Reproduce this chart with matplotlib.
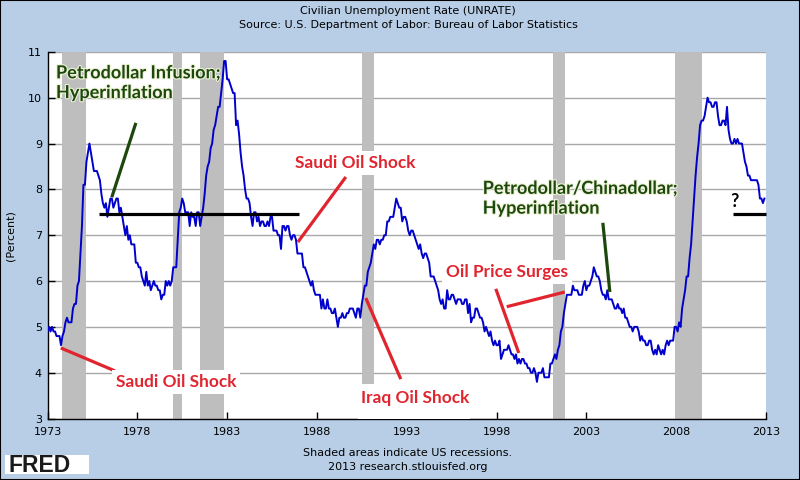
import numpy as np
import matplotlib.pyplot as plt
import matplotlib.patheffects as pe
from matplotlib.patches import Rectangle

# monthly unemployment rate (percent), one row per year, Jan..Dec
rate_1970s = [
    4.9, 5.0, 4.9, 5.0, 4.9, 4.9, 4.8, 4.8, 4.8, 4.6, 4.8, 4.9,
    5.1, 5.2, 5.1, 5.1, 5.1, 5.4, 5.5, 5.5, 5.9, 6.0, 6.6, 7.2,
    8.1, 8.1, 8.6, 8.8, 9.0, 8.8, 8.6, 8.4, 8.4, 8.4, 8.3, 8.2,
    7.9, 7.7, 7.6, 7.7, 7.4, 7.6, 7.8, 7.8, 7.6, 7.7, 7.8, 7.8,
    7.5, 7.6, 7.4, 7.2, 7.0, 7.2, 6.9, 7.0, 6.8, 6.8, 6.8, 6.4,
    6.4, 6.3, 6.3, 6.1, 6.0, 5.9, 6.2, 5.9, 6.0, 5.8, 5.9, 6.0,
    5.9, 5.9, 5.8, 5.8, 5.6, 5.7, 5.7, 6.0, 5.9, 6.0, 5.9, 6.0,
]
rate_1980s = [
    6.3, 6.3, 6.3, 6.9, 7.5, 7.6, 7.8, 7.7, 7.5, 7.5, 7.5, 7.2,
    7.5, 7.4, 7.4, 7.2, 7.5, 7.5, 7.2, 7.4, 7.6, 7.9, 8.3, 8.5,
    8.6, 8.9, 9.0, 9.3, 9.4, 9.6, 9.8, 9.8, 10.1, 10.4, 10.8, 10.8,
    10.4, 10.4, 10.3, 10.2, 10.1, 10.1, 9.4, 9.5, 9.2, 8.8, 8.5, 8.3,
    8.0, 7.8, 7.8, 7.7, 7.4, 7.2, 7.5, 7.5, 7.3, 7.4, 7.2, 7.3,
    7.3, 7.2, 7.2, 7.3, 7.2, 7.4, 7.4, 7.1, 7.1, 7.1, 7.0, 7.0,
    6.7, 7.2, 7.2, 7.1, 7.2, 7.2, 7.0, 6.9, 7.0, 7.0, 6.9, 6.6,
    6.6, 6.6, 6.6, 6.3, 6.3, 6.2, 6.1, 6.0, 5.9, 6.0, 5.8, 5.7,
    5.7, 5.7, 5.7, 5.4, 5.6, 5.4, 5.4, 5.6, 5.4, 5.4, 5.3, 5.3,
    5.4, 5.2, 5.0, 5.2, 5.2, 5.3, 5.2, 5.2, 5.3, 5.3, 5.4, 5.4,
]
rate_1990s = [
    5.4, 5.3, 5.2, 5.4, 5.4, 5.2, 5.5, 5.7, 5.9, 5.9, 6.2, 6.3,
    6.4, 6.6, 6.8, 6.7, 6.9, 6.9, 6.8, 6.9, 6.9, 7.0, 7.0, 7.3,
    7.3, 7.4, 7.4, 7.4, 7.6, 7.8, 7.7, 7.6, 7.6, 7.3, 7.4, 7.4,
    7.3, 7.1, 7.0, 7.1, 7.1, 7.0, 6.9, 6.8, 6.7, 6.8, 6.6, 6.5,
    6.6, 6.6, 6.5, 6.4, 6.1, 6.1, 6.1, 6.0, 5.9, 5.8, 5.6, 5.5,
    5.6, 5.4, 5.4, 5.8, 5.6, 5.6, 5.7, 5.7, 5.6, 5.5, 5.6, 5.6,
    5.6, 5.5, 5.5, 5.6, 5.6, 5.3, 5.5, 5.1, 5.2, 5.2, 5.4, 5.4,
    5.3, 5.2, 5.2, 5.1, 4.9, 5.0, 4.9, 4.8, 4.9, 4.7, 4.6, 4.7,
    4.6, 4.6, 4.7, 4.3, 4.4, 4.5, 4.5, 4.5, 4.6, 4.5, 4.4, 4.4,
    4.3, 4.4, 4.2, 4.3, 4.2, 4.3, 4.3, 4.2, 4.2, 4.1, 4.1, 4.0,
]
rate_2000s = [
    4.0, 4.1, 4.0, 3.8, 4.0, 4.0, 4.0, 4.1, 3.9, 3.9, 3.9, 3.9,
    4.2, 4.2, 4.3, 4.4, 4.3, 4.5, 4.6, 4.9, 5.0, 5.3, 5.5, 5.7,
    5.7, 5.7, 5.7, 5.9, 5.8, 5.8, 5.8, 5.7, 5.7, 5.7, 5.9, 6.0,
    5.8, 5.9, 5.9, 6.0, 6.1, 6.3, 6.2, 6.1, 6.1, 6.0, 5.8, 5.7,
    5.7, 5.6, 5.8, 5.6, 5.6, 5.6, 5.5, 5.4, 5.4, 5.5, 5.4, 5.4,
    5.3, 5.4, 5.2, 5.2, 5.1, 5.0, 5.0, 4.9, 5.0, 5.0, 5.0, 4.9,
    4.7, 4.8, 4.7, 4.7, 4.6, 4.6, 4.7, 4.7, 4.5, 4.4, 4.5, 4.4,
    4.6, 4.5, 4.4, 4.5, 4.4, 4.6, 4.7, 4.6, 4.7, 4.7, 4.7, 5.0,
    5.0, 4.9, 5.1, 5.0, 5.4, 5.6, 5.8, 6.1, 6.1, 6.5, 6.8, 7.3,
    7.8, 8.3, 8.7, 9.0, 9.4, 9.5, 9.5, 9.6, 9.8, 10.0, 9.9, 9.9,
]
rate_2010s = [
    9.8, 9.8, 9.9, 9.9, 9.6, 9.4, 9.4, 9.5, 9.5, 9.4, 9.8, 9.3,
    9.1, 9.0, 9.0, 9.1, 9.0, 9.1, 9.0, 9.0, 9.0, 8.8, 8.6, 8.5,
    8.3, 8.3, 8.2, 8.2, 8.2, 8.2, 8.2, 8.1, 7.8, 7.8, 7.7, 7.8,
]

# recessions (decimal years)
recession_start = [1973.83, 1980.0, 1981.5, 1990.5, 2001.17, 2007.92]
recession_end = [1975.17, 1980.5, 1982.83, 1991.17, 2001.83, 2009.42]

x_ticks = list(range(1973, 2014, 5))
y_ticks = list(range(3, 12))

rate = rate_1970s + rate_1980s + rate_1990s + rate_2000s + rate_2010s
dates = 1973 + np.arange(len(rate)) / 12.0

BG = '#b7cee6'
RED = '#e0252f'
GREEN = '#1c480e'
ANNO_FONT = 'Lato'

fig = plt.figure(figsize=(8, 4.8), dpi=100, facecolor=BG)
ax = fig.add_axes([0.0594, 0.128, 0.898, 0.764])
ax.set_facecolor('white')

# recession shading
for s, e in zip(recession_start, recession_end):
    ax.axvspan(s, e, color='#bebebe', lw=0, zorder=1)

ax.plot(dates, rate, color='#0000cc', lw=1.4, zorder=3)

ax.set_xlim(1973, 2013)
ax.set_ylim(3, 11)
ax.set_xticks(x_ticks)
ax.set_yticks(y_ticks)
ax.yaxis.grid(True, color='#a8a8a8', lw=1, zorder=0)
ax.set_axisbelow(True)
ax.tick_params(axis='x', direction='in', length=5, width=1, pad=6, labelsize=8)
ax.tick_params(axis='y', direction='in', length=5, width=1, pad=4, labelsize=8)
for side in ['top', 'right']:
    ax.spines[side].set_visible(False)
for side in ['left', 'bottom']:
    ax.spines[side].set_color('black')
    ax.spines[side].set_linewidth(1)
ax.set_ylabel('(Percent)', fontsize=8, labelpad=9)

# titles
fig.text(0.51, 0.977, 'Civilian Unemployment Rate (UNRATE)', ha='center', va='center', fontsize=8)
fig.text(0.51, 0.948, 'Source: U.S. Department of Labor: Bureau of Labor Statistics',
         ha='center', va='center', fontsize=8)
fig.text(0.51, 0.056, 'Shaded areas indicate US recessions.', ha='center', va='center', fontsize=8)
fig.text(0.51, 0.027, '2013 research.stlouisfed.org', ha='center', va='center', fontsize=8)

# FRED logo
fig.patches.append(Rectangle((0.006, 0.012), 0.105, 0.040, transform=fig.transFigure,
                             facecolor='white', edgecolor='none'))
fig.text(0.010, 0.031, 'FRED', ha='left', va='center', fontsize=16.5, fontweight='bold',
         family='Liberation Sans', color='#1a1a1a')

# figure border
fig.patches.append(Rectangle((0, 0), 1, 1, transform=fig.transFigure, fill=False,
                             edgecolor='black', lw=1.5))

glow = [pe.withStroke(linewidth=1.6, foreground='#eef2d6')]
box = dict(facecolor='white', edgecolor='none', pad=3)

def note(x, y, s, color, size=13, **kw):
    t = ax.text(x, y, s, color=color, fontsize=size, fontweight='bold', family=ANNO_FONT,
                ha='left', va='baseline', zorder=6, linespacing=1.2, **kw)
    return t

def seg(x, y, color):
    ax.plot(x, y, color=color, lw=2.3, zorder=5, solid_capstyle='butt', clip_on=False)

# green notes
note(1973.47, 9.99, 'Petrodollar Infusion;\nHyperinflation', GREEN, path_effects=glow)
seg([1977.92, 1976.58], [9.45, 7.83], GREEN)
note(1997.23, 7.47, 'Petrodollar/Chinadollar;\nHyperinflation', GREEN, path_effects=glow)
seg([2003.92, 2004.31], [7.27, 5.76], GREEN)

# black level lines
seg([1975.86, 1986.99], [7.47, 7.47], 'black')
seg([2011.15, 2013.0], [7.47, 7.47], 'black')
note(2011.0, 7.62, '?', 'black')

# red notes (white boxes hide bars behind them)
note(1986.77, 8.46, 'Saudi Oil Shock', RED, size=12.4, bbox=box)
seg([1989.61, 1986.94], [8.27, 6.85], RED)
note(1976.80, 3.69, 'Saudi Oil Shock', RED, size=12.4, bbox=box)
seg([1973.74, 1976.75], [4.54, 4.04], RED)
ax.add_patch(Rectangle((1990.3, 3.0), 6.2, 0.75, facecolor='white', edgecolor='none', zorder=4))
note(1990.44, 3.34, 'Iraq Oil Shock', RED, size=12.4, bbox=box)
seg([1990.72, 1992.67], [5.63, 3.86], RED)
note(1995.17, 6.09, 'Oil Price Surges', RED, size=12.4, bbox=box)
seg([1997.96, 1999.24], [5.83, 4.43], RED)
seg([1998.57, 2001.80], [5.44, 5.76], RED)

fig.savefig('out.png', dpi=100, facecolor=BG)
